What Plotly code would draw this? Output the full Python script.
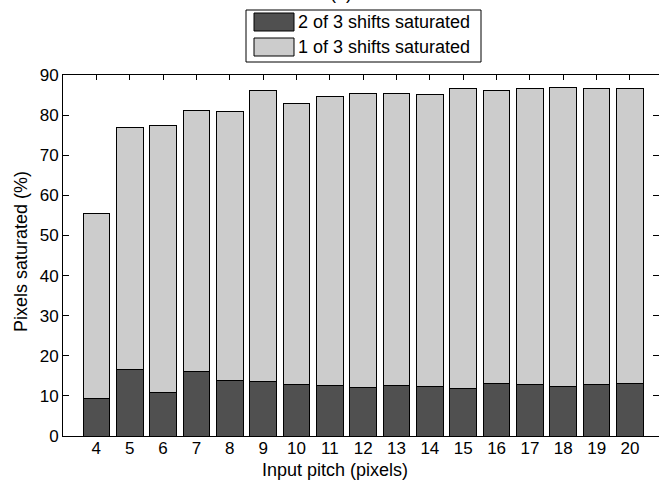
import plotly.graph_objects as go

# ---- data ----
pitch = [4, 5, 6, 7, 8, 9, 10, 11, 12, 13, 14, 15, 16, 17, 18, 19, 20]
two_of_three = [9.25, 16.7, 10.75, 16.2, 13.9, 13.6, 12.9, 12.7, 12.2, 12.5,
                12.4, 11.9, 13.0, 12.75, 12.4, 12.75, 13.0]
one_of_three = [46.25, 60.2, 66.55, 65.0, 67.1, 72.5, 69.9, 71.9, 73.2, 72.9,
                72.8, 74.7, 73.1, 73.85, 74.4, 73.85, 73.6]
series_names = ["2 of 3 shifts saturated", "1 of 3 shifts saturated"]
y_ticks = [0, 10, 20, 30, 40, 50, 60, 70, 80, 90]

W, H = 659, 484
L, R, T, B = 63, 0, 75, 48
FONT = "Liberation Sans, Arial, Helvetica, sans-serif"
DARK = "#505050"
LIGHT = "#cccccc"


def px_x(p):
    return (p - L) / (W - L - R)


def px_y(p):
    return (H - B - p) / (H - T - B)


fig = go.Figure()
fig.add_trace(go.Bar(x=pitch, y=two_of_three, name=series_names[0], width=0.8,
                     marker=dict(color=DARK, line=dict(color="black", width=1)),
                     showlegend=False))
fig.add_trace(go.Bar(x=pitch, y=one_of_three, name=series_names[1], width=0.8,
                     marker=dict(color=LIGHT, line=dict(color="black", width=1)),
                     showlegend=False))
# invisible trace to carry the right-hand y axis ticks
fig.add_trace(go.Scatter(x=[pitch[0]], y=[0], yaxis="y2", mode="markers",
                         marker=dict(opacity=0), showlegend=False, hoverinfo="skip"))

fig.update_layout(
    width=W, height=H,
    margin=dict(l=L, r=R, t=T, b=B, pad=0),
    barmode="stack",
    plot_bgcolor="white", paper_bgcolor="white",
    font=dict(family=FONT, size=18, color="black"),
    xaxis=dict(range=[3, 20.87], tickvals=pitch, ticktext=[str(p) for p in pitch],
               showline=True, linecolor="black", linewidth=1, mirror="ticks",
               ticks="inside", ticklen=5, tickcolor="black", showgrid=False,
               zeroline=False, layer="below traces", ticklabelstandoff=-3,
               tickfont=dict(size=17, family=FONT)),
    yaxis=dict(range=[0, 90], tickvals=y_ticks, showline=True, linecolor="black",
               linewidth=1, mirror=False, ticks="inside", ticklen=6, tickcolor="black",
               showgrid=False, zeroline=False, tickfont=dict(size=17, family=FONT)),
    yaxis2=dict(range=[0, 90], tickvals=y_ticks, overlaying="y", side="right",
                showline=False, ticks="inside", ticklen=6, tickcolor="black",
                showticklabels=False, showgrid=False, zeroline=False),
)

# axis titles
fig.add_annotation(text="Input pitch (pixels)", xref="paper", yref="paper",
                   x=px_x(335), y=px_y(470), xanchor="center", yanchor="middle",
                   showarrow=False, font=dict(size=18, family=FONT))
fig.add_annotation(text="Pixels saturated (%)", xref="paper", yref="paper",
                   x=px_x(21), y=px_y(252), xanchor="center", yanchor="middle",
                   textangle=-90, showarrow=False, font=dict(size=18, family=FONT))
# partially visible title at the very top
fig.add_annotation(text="(a)", xref="paper", yref="paper",
                   x=px_x(341), y=px_y(5), xanchor="center", yanchor="bottom",
                   showarrow=False, font=dict(size=18, family=FONT))

# legend box drawn by hand (box + swatches + labels)
fig.add_shape(type="rect", xref="paper", yref="paper",
              x0=px_x(246), x1=px_x(481), y0=px_y(62), y1=px_y(10),
              line=dict(color="black", width=1), fillcolor="white")
rows = [(13, 31, DARK, series_names[0]), (38, 56, LIGHT, series_names[1])]
for y0, y1, col, label in rows:
    fig.add_shape(type="rect", xref="paper", yref="paper",
                  x0=px_x(254), x1=px_x(294), y0=px_y(y1), y1=px_y(y0),
                  line=dict(color="black", width=1), fillcolor=col)
    fig.add_annotation(text=label, xref="paper", yref="paper",
                       x=px_x(296), y=px_y((y0 + y1) / 2), xanchor="left",
                       yanchor="middle", showarrow=False,
                       font=dict(size=18, family=FONT))

fig.write_html("out.html")
